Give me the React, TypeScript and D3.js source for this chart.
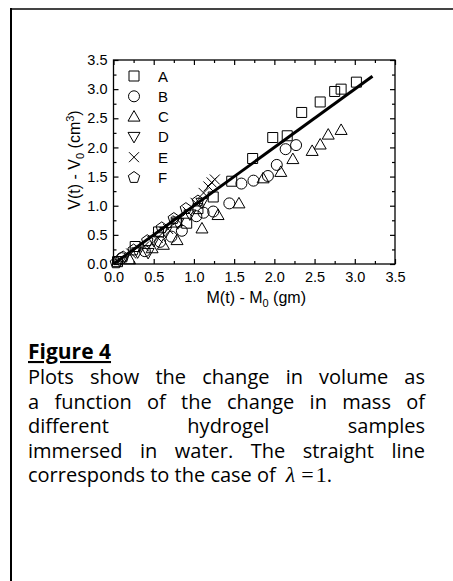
import React, { useEffect, useRef } from 'react';
import * as d3 from 'd3';

// sample series: [M(t) - M0, V(t) - V0]
const seriesA: [number, number][] = [[0.05, 0.04], [0.27, 0.30], [0.56, 0.55], [0.78, 0.72], [0.91, 0.70], [1.05, 0.95], [1.24, 1.15], [1.47, 1.42], [1.73, 1.81], [1.98, 2.17], [2.16, 2.20], [2.34, 2.60], [2.57, 2.78], [2.75, 2.96], [2.83, 3.00], [3.02, 3.12]];
const seriesB: [number, number][] = [[0.10, 0.10], [0.39, 0.22], [0.58, 0.38], [0.72, 0.47], [0.85, 0.57], [1.03, 0.82], [1.12, 0.88], [1.24, 0.90], [1.44, 1.04], [1.59, 1.38], [1.74, 1.43], [1.92, 1.51], [2.03, 1.70], [2.14, 1.97], [2.27, 2.04]];
const seriesC: [number, number][] = [[0.20, 0.08], [0.48, 0.27], [0.62, 0.33], [0.79, 0.41], [1.10, 0.61], [1.30, 0.84], [1.56, 1.04], [1.86, 1.47], [2.08, 1.58], [2.23, 1.80], [2.47, 1.94], [2.57, 2.05], [2.67, 2.22], [2.83, 2.30]];
const seriesD: [number, number][] = [[0.08, 0.05], [0.30, 0.20], [0.43, 0.19], [0.50, 0.40], [0.65, 0.55], [0.80, 0.70], [0.95, 0.85], [1.10, 1.05]];
const seriesE: [number, number][] = [[0.22, 0.18], [0.38, 0.30], [0.55, 0.45], [0.68, 0.60], [0.80, 0.75], [0.92, 0.90], [1.02, 1.05], [1.12, 1.22], [1.18, 1.33], [1.22, 1.40], [1.26, 1.45]];
const seriesF: [number, number][] = [[0.03, 0.02], [0.12, 0.12], [0.25, 0.24], [0.42, 0.40], [0.60, 0.62], [0.75, 0.78], [0.90, 0.95], [1.05, 1.08]];
const fitLine: [number, number][] = [[0, 0], [3.22, 3.22]];

const legendLabels = ['A', 'B', 'C', 'D', 'E', 'F'];
const majorTicks = [0, 0.5, 1, 1.5, 2, 2.5, 3, 3.5];
const minorTicks = [0.25, 0.75, 1.25, 1.75, 2.25, 2.75, 3.25];

const captionTitle = 'Figure 4';
const captionLines = [
  'Plots show the change in volume as',
  'a function of the change in mass of',
  'different hydrogel samples',
  'immersed in water. The straight line',
];
const captionLast = 'corresponds to the case of';

const W = 453, H = 581;
const AXIS_FONT = '"Liberation Sans", Arial, sans-serif';
const CAP_FONT = '"Open Sans", "Noto Sans", sans-serif';
const MATH_FONT = '"Liberation Serif", "Times New Roman", serif';

// marker paths, centred on 0,0
const markers: Record<string, string> = {
  A: 'M-5,-5H5V5H-5Z',
  B: d3.symbol(d3.symbolCircle, 95)()!,
  C: 'M0,-6L6,4.5H-6Z',
  D: 'M0,6L6,-4.5H-6Z',
  E: 'M-5,-5L5,5M-5,5L5,-5',
  F: 'M0,-6L5.7,-1.9L3.5,4.9H-3.5L-5.7,-1.9Z',
};
const seriesList: [string, [number, number][]][] = [['A', seriesA], ['B', seriesB], ['C', seriesC], ['D', seriesD], ['E', seriesE], ['F', seriesF]];

export default function App() {
  const ref = useRef<SVGSVGElement>(null);
  useEffect(() => {
    const svg = d3.select(ref.current!);
    svg.selectAll('*').remove();

    // page frame
    svg.append('line').attr('x1', 10).attr('x2', W).attr('y1', 9).attr('y2', 9).attr('stroke', '#444').attr('stroke-width', 2);
    svg.append('line').attr('x1', 11).attr('x2', 11).attr('y1', 8).attr('y2', H).attr('stroke', '#000').attr('stroke-width', 2);

    const x = d3.scaleLinear().domain([0, 3.5]).range([113.5, 395]);
    const y = d3.scaleLinear().domain([0, 3.5]).range([264, 60]);
    const fmt = d3.format('.1f');

    const styleAxis = (a: any) => {
      a.select('.domain').remove();
      a.selectAll('line').attr('stroke', '#000').attr('stroke-width', 1.2);
      a.selectAll('text').attr('fill', '#000').attr('font-size', 14.5).attr('font-family', AXIS_FONT);
    };
    const g = svg.append('g');
    g.append('g').attr('transform', `translate(0,${y(0)})`).call(d3.axisBottom(x).tickValues(majorTicks).tickSize(-5).tickPadding(8).tickFormat((d: any) => fmt(d))).call(styleAxis);
    g.append('g').attr('transform', `translate(0,${y(0)})`).call(d3.axisBottom(x).tickValues(minorTicks).tickSize(-3).tickFormat(() => '')).call(styleAxis);
    g.append('g').attr('transform', `translate(0,${y(3.5)})`).call(d3.axisTop(x).tickValues(majorTicks).tickSize(-5).tickFormat(() => '')).call(styleAxis);
    g.append('g').attr('transform', `translate(0,${y(3.5)})`).call(d3.axisTop(x).tickValues(minorTicks).tickSize(-3).tickFormat(() => '')).call(styleAxis);
    g.append('g').attr('transform', `translate(${x(0)},0)`).call(d3.axisLeft(y).tickValues(majorTicks).tickSize(-5).tickPadding(6).tickFormat((d: any) => fmt(d))).call(styleAxis);
    g.append('g').attr('transform', `translate(${x(0)},0)`).call(d3.axisLeft(y).tickValues(minorTicks).tickSize(-3).tickFormat(() => '')).call(styleAxis);
    g.append('g').attr('transform', `translate(${x(3.5)},0)`).call(d3.axisRight(y).tickValues(majorTicks).tickSize(-5).tickFormat(() => '')).call(styleAxis);
    g.append('g').attr('transform', `translate(${x(3.5)},0)`).call(d3.axisRight(y).tickValues(minorTicks).tickSize(-3).tickFormat(() => '')).call(styleAxis);
    g.append('rect').attr('x', x(0)).attr('y', y(3.5)).attr('width', x(3.5) - x(0)).attr('height', y(0) - y(3.5))
      .attr('fill', 'none').attr('stroke', '#000').attr('stroke-width', 1.3);

    // axis titles
    const xt = svg.append('text').attr('x', (x(0) + x(3.5)) / 2 + 2).attr('y', 303).attr('text-anchor', 'middle')
      .attr('font-family', AXIS_FONT).attr('font-size', 16).attr('fill', '#000');
    xt.append('tspan').text('M(t) - M');
    xt.append('tspan').text('0').attr('font-size', 11).attr('dy', 4);
    xt.append('tspan').text(' (gm)').attr('dy', -4);
    const yt = svg.append('text').attr('transform', `translate(80,${(y(0) + y(3.5)) / 2 - 2})rotate(-90)`).attr('text-anchor', 'middle')
      .attr('font-family', AXIS_FONT).attr('font-size', 16).attr('fill', '#000');
    yt.append('tspan').text('V(t) - V');
    yt.append('tspan').text('0').attr('font-size', 11).attr('dy', 4);
    yt.append('tspan').text(' (cm').attr('dy', -4);
    yt.append('tspan').text('3').attr('font-size', 11).attr('dy', -6);
    yt.append('tspan').text(')').attr('dy', 6);

    // straight line, lambda = 1
    g.append('path').datum(fitLine).attr('fill', 'none').attr('stroke', '#000').attr('stroke-width', 3)
      .attr('d', d3.line<[number, number]>().x(d => x(d[0])).y(d => y(d[1])));

    // points
    seriesList.forEach(([key, data]) => {
      g.selectAll(null).data(data).enter().append('path')
        .attr('transform', d => `translate(${x(d[0])},${y(d[1])})`)
        .attr('d', markers[key]).attr('fill', 'none').attr('stroke', '#000').attr('stroke-width', 1);
    });

    // legend
    legendLabels.forEach((lab, i) => {
      const ly = 76 + i * 20.3;
      svg.append('path').attr('transform', `translate(134,${ly})`).attr('d', markers[lab])
        .attr('fill', 'none').attr('stroke', '#000').attr('stroke-width', 1);
      svg.append('text').attr('x', 158).attr('y', ly + 5.5).text(lab)
        .attr('font-family', AXIS_FONT).attr('font-size', 15).attr('fill', '#000');
    });

    // caption, justified by hand
    const left = 28, right = 425, size = 20;
    svg.append('text').attr('x', left).attr('y', 359).text(captionTitle)
      .attr('font-family', CAP_FONT).attr('font-size', 21).attr('font-weight', 700)
      .attr('text-decoration', 'underline').attr('fill', '#000');
    captionLines.forEach((line, i) => {
      const by = 384 + i * 24.6;
      const words = line.split(' ');
      const nodes = words.map(w => svg.append('text').attr('y', by).text(w)
        .attr('font-family', CAP_FONT).attr('font-size', size).attr('fill', '#000'));
      const widths = nodes.map(n => (n.node() as SVGTextElement).getComputedTextLength());
      const gap = (right - left - d3.sum(widths)) / (words.length - 1);
      let cx = left;
      nodes.forEach((n, j) => { n.attr('x', cx); cx += widths[j] + gap; });
    });
    const last = svg.append('text').attr('x', left).attr('y', 384 + 4 * 24.6)
      .attr('font-family', CAP_FONT).attr('font-size', size).attr('fill', '#000');
    last.append('tspan').text(captionLast);
    last.append('tspan').text('λ').attr('dx', 10).attr('font-family', MATH_FONT).attr('font-style', 'italic').attr('font-size', 22);
    last.append('tspan').text('=').attr('dx', 6).attr('font-family', MATH_FONT).attr('font-size', 22);
    last.append('tspan').text('1').attr('dx', 2).attr('font-family', MATH_FONT).attr('font-size', 22);
    last.append('tspan').text('.');
  }, []);

  return (
    <div style={{ position: 'absolute', left: 0, top: 0, background: '#fff' }}>
      <svg ref={ref} width={W} height={H} style={{ display: 'block' }} />
    </div>
  );
}
